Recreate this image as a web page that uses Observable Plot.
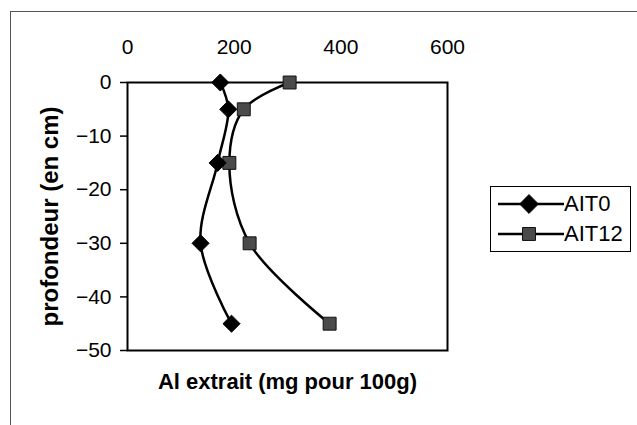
<!DOCTYPE html>
<html>
<head>
<meta charset="utf-8">
<script src="https://cdn.jsdelivr.net/npm/d3@7"></script>
<script src="https://cdn.jsdelivr.net/npm/@observablehq/plot@0.6"></script>
<style>
  html, body { margin: 0; padding: 0; background: #fff; }
  #wrap { position: relative; width: 637px; height: 425px; overflow: hidden; font-family: "Liberation Sans", Arial, sans-serif; }
  #outer { position: absolute; left: 10px; top: 11px; width: 640px; height: 430px; border-left: 1.5px solid #555; border-top: 1.5px solid #555; box-sizing: border-box; }
  #chart { position: absolute; left: 0; top: 0; }
  #legend { position: absolute; left: 490px; top: 186px; width: 141px; height: 66px; border: 1px solid #000; box-sizing: border-box; background: #fff; }
  .row { position: absolute; left: 7px; height: 30px; display: flex; align-items: center; font-size: 22px; }
  .row svg { display: block; }
</style>
</head>
<body>
<div id="wrap">
  <div id="outer"></div>
  <div id="chart"></div>
  <div id="legend"></div>
</div>
<script>
// Data
const depths = [0, -5, -15, -30, -45];
const ait0 = [174, 189, 169, 137, 195];
const ait12 = [304, 218, 191, 229, 379];
const seriesNames = ["AIT0", "AIT12"];
const xTicks = [0, 200, 400, 600];
const yTicks = [0, -10, -20, -30, -40, -50];
const xLabel = "Al extrait (mg pour 100g)";
const yLabel = "profondeur (en cm)";

const rows0 = depths.map((d, i) => ({depth: d, value: ait0[i], series: seriesNames[0]}));
const rows12 = depths.map((d, i) => ({depth: d, value: ait12[i], series: seriesNames[1]}));

const chart = Plot.plot({
  width: 637,
  height: 425,
  marginLeft: 127,
  marginRight: 190,
  marginTop: 82,
  marginBottom: 75,
  style: {fontFamily: "'Liberation Sans', Arial, sans-serif", fontSize: "21px", color: "#000", background: "transparent", overflow: "visible"},
  x: {domain: [0, 600], ticks: xTicks},
  y: {domain: [-50, 0], ticks: yTicks},
  marks: [
    Plot.frame({stroke: "#000", strokeWidth: 2}),
    Plot.axisX({anchor: "top", ticks: xTicks, tickSize: 0, tickPadding: 29, label: null, fontSize: 21}),
    Plot.axisY({anchor: "left", ticks: yTicks, tickSize: 7, tickPadding: 9, label: null, fontSize: 21, strokeWidth: 1.5}),
    Plot.line(rows0, {x: "value", y: "depth", curve: "catmull-rom", stroke: "#000", strokeWidth: 2.5}),
    Plot.line(rows12, {x: "value", y: "depth", curve: "catmull-rom", stroke: "#000", strokeWidth: 2.5}),
    Plot.dot(rows12, {x: "value", y: "depth", symbol: "square", r: 7.3, fill: "#4a4a4a", stroke: "#111", strokeWidth: 1}),
    Plot.dot(rows0, {x: "value", y: "depth", symbol: "diamond2", r: 7.7, fill: "#000", stroke: "#000", strokeWidth: 1}),
    Plot.text([xLabel], {frameAnchor: "bottom", dy: 38, fontWeight: "bold", fontSize: 22, fill: "#000"}),
    Plot.text([yLabel], {frameAnchor: "left", textAnchor: "middle", dx: -77, rotate: -90, fontWeight: "bold", fontSize: 24, fill: "#000"})
  ]
});
document.getElementById("chart").appendChild(chart);

// Legend
const legend = document.getElementById("legend");
const symPaths = {
  AIT0: d3.symbol(d3.symbolDiamond2, Math.PI * 8.5 * 8.5)(),
  AIT12: d3.symbol(d3.symbolSquare, Math.PI * 7.3 * 7.3)()
};
seriesNames.forEach((name, i) => {
  const row = document.createElement("div");
  row.className = "row";
  row.style.top = (2 + i * 30) + "px";
  const fill = name === "AIT0" ? "#000" : "#4a4a4a";
  row.innerHTML = `<svg width="66" height="30"><line x1="0" x2="66" y1="15" y2="15" stroke="#000" stroke-width="2.5"/><path d="${symPaths[name]}" transform="translate(31,15)" fill="${fill}" stroke="#111" stroke-width="1"/></svg><span>${name}</span>`;
  legend.appendChild(row);
});
</script>
</body>
</html>
